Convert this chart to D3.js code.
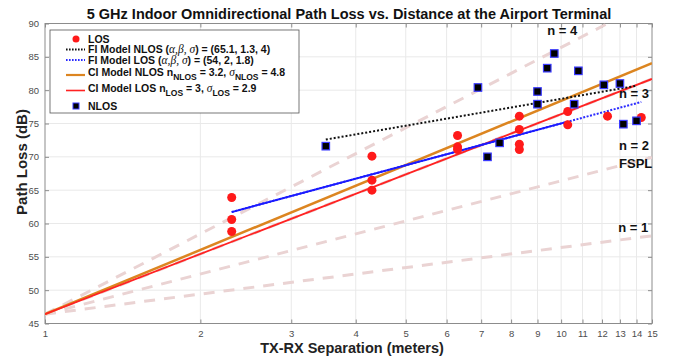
<!DOCTYPE html>
<html>
<head>
<meta charset="utf-8">
<title>Path Loss vs Distance</title>
<script src="https://d3js.org/d3.v7.min.js"></script>
<style>
  body { margin: 0; background: #fff; }
  svg { font-family: "Liberation Sans", Arial, Helvetica, sans-serif; }
</style>
</head>
<body>
<div id="chart"></div>
<script>
/* global d3 */

// measured points
const losDist = [2.3, 2.3, 2.3, 4.3, 4.3, 4.3, 6.3, 6.3, 6.3, 8.3, 8.3, 8.3, 8.3, 10.3, 10.3, 12.3, 14.3];
const losPL = [63.9, 60.6, 58.8, 70.1, 66.5, 65.0, 73.2, 71.5, 71.1, 76.1, 74.1, 71.9, 71.1, 76.8, 74.8, 76.1, 75.9];
const nlosDist = [3.5, 6.9, 7.2, 7.6, 9, 9, 9.4, 9.7, 10.6, 10.8, 12.1, 13, 13.2, 14];
const nlosPL = [71.6, 80.4, 70.0, 72.1, 79.8, 77.9, 83.3, 85.5, 77.9, 82.9, 80.8, 81.0, 74.9, 75.4];

// model parameters
const fspl1m = 46.4;
const refN = [1, 2, 3, 4];
const ciNlosN = 3.2;
const ciLosN = 3.0;
const fiNlos = [65.3, 1.34];   // alpha, beta
const fiLos = [54.2, 2.08];
const fiNlosRange = [3.5, 14];
const fiLosRange = [2.3, 14.3];
const fiLosSolidRange = [2.3, 10.3];

const xTicks = d3.range(1, 16);
const yTicks = d3.range(45, 91, 5);

const margin = { top: 23.5, right: 26, bottom: 34.5, left: 45 };
const W = 678, H = 358;
const width = W - margin.left - margin.right;
const height = H - margin.top - margin.bottom;

const svg = d3.select('#chart').append('svg')
    .attr('width', W)
    .attr('height', H);

const g = svg.append('g')
    .attr('transform', `translate(${margin.left},${margin.top})`);

const x = d3.scaleLog().domain([1, 15]).range([0, width]);
const y = d3.scaleLinear().domain([45, 90]).range([height, 0]);

g.append('defs').append('clipPath').attr('id', 'clip')
  .append('rect').attr('width', width).attr('height', height);

// grid
g.append('g').selectAll('line').data(xTicks.slice(1, -1)).join('line')
    .attr('x1', d => x(d)).attr('x2', d => x(d))
    .attr('y1', 0).attr('y2', height)
    .attr('stroke', '#e9e9e9');
g.append('g').selectAll('line').data(yTicks.slice(1, -1)).join('line')
    .attr('y1', d => y(d)).attr('y2', d => y(d))
    .attr('x1', 0).attr('x2', width)
    .attr('stroke', '#e9e9e9');

// axes (ticks inward, box)
const axisStyle = sel => {
  sel.select('.domain').remove();
  sel.selectAll('line').attr('stroke', '#8c8c8c');
  sel.selectAll('text').attr('fill', '#4d4d4d').style('font-size', '9.5px');
};
g.append('g')
    .attr('transform', `translate(0,${height})`)
    .call(d3.axisBottom(x).tickValues(xTicks).tickFormat(d3.format('d')).tickSizeInner(-4).tickSizeOuter(0).tickPadding(7))
    .call(axisStyle);
g.append('g')
    .call(d3.axisTop(x).tickValues(xTicks).tickFormat('').tickSizeInner(-4).tickSizeOuter(0))
    .call(axisStyle);
g.append('g')
    .call(d3.axisLeft(y).tickValues(yTicks).tickSizeInner(-4).tickSizeOuter(0).tickPadding(6))
    .call(axisStyle);
g.append('g')
    .attr('transform', `translate(${width},0)`)
    .call(d3.axisRight(y).tickValues(yTicks).tickFormat('').tickSizeInner(-4).tickSizeOuter(0))
    .call(axisStyle);

g.append('rect')
    .attr('width', width).attr('height', height)
    .attr('fill', 'none').attr('stroke', '#8c8c8c').attr('stroke-width', 1);

const plot = g.append('g').attr('clip-path', 'url(#clip)');

const line = d3.line().x(d => x(d[0])).y(d => y(d[1]));
const seg = (range, a, b) => range.map(d => [d, a + 10 * b * Math.log10(d)]);

// reference n lines
plot.selectAll('.ref').data(refN).join('path')
    .attr('class', 'ref')
    .attr('d', n => line(seg([1, 15], fspl1m, n)))
    .attr('fill', 'none')
    .attr('stroke', '#ead3d3')
    .attr('stroke-width', 3)
    .attr('stroke-dasharray', '11,9');

// CI models
plot.append('path')
    .attr('d', line(seg([1, 15], fspl1m, ciNlosN)))
    .attr('fill', 'none').attr('stroke', '#dc8520').attr('stroke-width', 2.5);
plot.append('path')
    .attr('d', line(seg([1, 15], fspl1m, ciLosN)))
    .attr('fill', 'none').attr('stroke', '#ff2222').attr('stroke-width', 1.8);

// FI models
plot.append('path')
    .attr('d', line(seg(fiLosRange, fiLos[0], fiLos[1])))
    .attr('fill', 'none').attr('stroke', '#2a2aff').attr('stroke-width', 2)
    .attr('stroke-dasharray', '2,1.5');
plot.append('path')
    .attr('d', line(seg(fiLosSolidRange, fiLos[0], fiLos[1])))
    .attr('fill', 'none').attr('stroke', '#1a1aff').attr('stroke-width', 1.8);
plot.append('path')
    .attr('d', line(seg(fiNlosRange, fiNlos[0], fiNlos[1])))
    .attr('fill', 'none').attr('stroke', '#111').attr('stroke-width', 2)
    .attr('stroke-dasharray', '2,2');

// points
plot.append('g').selectAll('circle').data(d3.zip(losDist, losPL)).join('circle')
    .attr('cx', d => x(d[0])).attr('cy', d => y(d[1]))
    .attr('r', 4.5).attr('fill', '#ff1a1a');
const sq = 7.5;
plot.append('g').selectAll('rect').data(d3.zip(nlosDist, nlosPL)).join('rect')
    .attr('x', d => x(d[0]) - sq / 2).attr('y', d => y(d[1]) - sq / 2)
    .attr('width', sq).attr('height', sq)
    .attr('fill', '#000').attr('stroke', '#3a3aff').attr('stroke-width', 1.2);

// n labels
const nLabels = [
  { t: 'n = 4', d: 9.4, v: 88.3 },
  { t: 'n = 3', d: 12.95, v: 78.9 },
  { t: 'n = 2', d: 12.95, v: 71.0 },
  { t: 'FSPL', d: 12.95, v: 68.3 },
  { t: 'n = 1', d: 12.9, v: 58.8 }
];
g.selectAll('.nlab').data(nLabels).join('text')
    .attr('class', 'nlab')
    .attr('x', d => x(d.d)).attr('y', d => y(d.v))
    .attr('font-size', 13).attr('font-weight', 'bold').attr('fill', '#111')
    .text(d => d.t);

// titles
svg.append('text')
    .attr('x', 349).attr('y', 18.5)
    .attr('text-anchor', 'middle')
    .attr('font-size', 14.5).attr('font-weight', 'bold').attr('fill', '#111')
    .text('5 GHz Indoor Omnidirectional Path Loss vs. Distance at the Airport Terminal');
svg.append('text')
    .attr('x', 352).attr('y', 353)
    .attr('text-anchor', 'middle')
    .attr('font-size', 14.5).attr('font-weight', 'bold').attr('fill', '#222')
    .text('TX-RX Separation (meters)');
svg.append('text')
    .attr('transform', `translate(27,162) rotate(-90)`)
    .attr('text-anchor', 'middle')
    .attr('font-size', 15).attr('font-weight', 'bold').attr('fill', '#222')
    .text('Path Loss (dB)');

// legend
const lg = svg.append('g');
lg.append('rect')
    .attr('x', 50).attr('y', 30).attr('width', 249).attr('height', 83)
    .attr('fill', '#fff').attr('stroke', '#555').attr('stroke-width', 0.8);

const lx0 = 66, lx1 = 85, tx = 88;
const rows = [39, 49.5, 60, 75, 90.5, 106];

lg.append('circle').attr('cx', 76).attr('cy', rows[0]).attr('r', 3.5).attr('fill', '#ff1a1a');
lg.append('line').attr('x1', lx0).attr('x2', lx1).attr('y1', rows[1]).attr('y2', rows[1])
    .attr('stroke', '#111').attr('stroke-width', 1.8).attr('stroke-dasharray', '1.6,1.4');
lg.append('line').attr('x1', lx0).attr('x2', lx1).attr('y1', rows[2]).attr('y2', rows[2])
    .attr('stroke', '#2a2aff').attr('stroke-width', 1.8).attr('stroke-dasharray', '1.6,1.4');
lg.append('line').attr('x1', lx0).attr('x2', lx1).attr('y1', rows[3]).attr('y2', rows[3])
    .attr('stroke', '#dc8520').attr('stroke-width', 2.2);
lg.append('line').attr('x1', lx0).attr('x2', lx1).attr('y1', rows[4]).attr('y2', rows[4])
    .attr('stroke', '#ff2222').attr('stroke-width', 1.6);
lg.append('rect').attr('x', 76 - 3).attr('y', rows[5] - 3).attr('width', 6).attr('height', 6)
    .attr('fill', '#000').attr('stroke', '#3a3aff').attr('stroke-width', 1);

const ltext = (row, dy) => lg.append('text')
    .attr('x', tx).attr('y', rows[row] + dy)
    .attr('font-size', 10.5).attr('font-weight', 'bold').attr('fill', '#111');

ltext(0, 3.8).text('LOS');
ltext(5, 3.8).text('NLOS');

const greek = (t, s) => t.append('tspan')
    .attr('font-family', '"Liberation Serif", "DejaVu Serif", serif')
    .attr('font-style', 'italic').attr('font-weight', 'normal')
    .attr('font-size', 11.5).text(s);

let t = ltext(1, 3.8);
t.append('tspan').text('FI Model NLOS (');
greek(t, 'α,β, σ');
t.append('tspan').text(') = (65.1, 1.3, 4)');

t = ltext(2, 3.8);
t.append('tspan').text('FI Model LOS (');
greek(t, 'α,β, σ');
t.append('tspan').text(') = (54, 2, 1.8)');

function sub(label) { return label.indexOf('NLOS') >= 0 ? 'NLOS' : 'LOS'; }
const subRow = (row, label, nv, sv) => {
  const s = ltext(row, 1);
  s.append('tspan').text(label + ' n');
  s.append('tspan').attr('dy', 4).attr('font-size', 8.5).text(sub(label));
  s.append('tspan').attr('dy', -4).text(' = ' + nv + ', ');
  greek(s, 'σ');
  s.append('tspan').attr('dy', 4).attr('font-size', 8.5).text(sub(label));
  s.append('tspan').attr('dy', -4).text(' = ' + sv);
};
subRow(3, 'CI Model NLOS', ciNlosN, 4.8);
subRow(4, 'CI Model LOS', ciLosN, 2.9);
</script>
</body>
</html>
